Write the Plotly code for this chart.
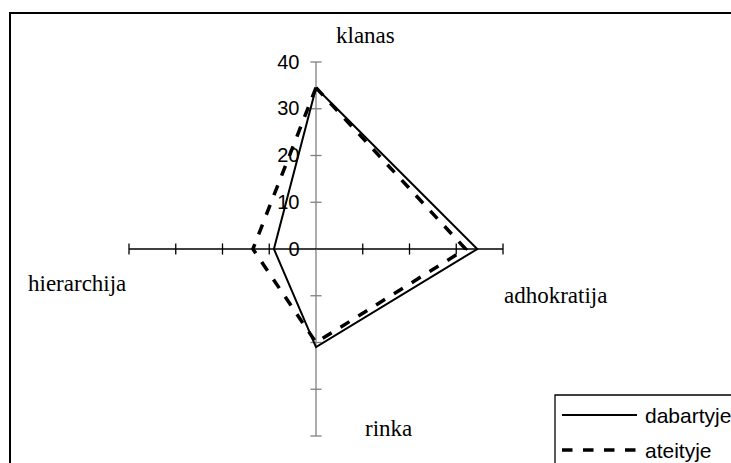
import plotly.graph_objects as go

categories = ["klanas", "adhokratija", "rinka", "hierarchija"]
dabartyje = [34.5, 34.5, 21, 9]
ateityje = [34.5, 32, 20, 13.5]
series_names = ["dabartyje", "ateityje"]
tick_values = [0, 10, 20, 30, 40]
tick_labels = ["0", "10", "20", "30", "40"]

W, H = 731, 463

def px(x):
    return x / W

def py(y):
    return 1 - y / H

fig = go.Figure()

# spokes
spoke_colors = ["#808080", "#000000", "#808080", "#000000"]
for cat, col in zip(categories, spoke_colors):
    fig.add_trace(go.Scatterpolar(
        r=[tick_values[0], tick_values[-1]], theta=[cat, cat], mode="lines",
        line=dict(color=col, width=1.3), showlegend=False, hoverinfo="skip"))

# tick marks on spokes
tick_symbols = ["line-ew", "line-ns", "line-ew", "line-ns"]
for cat, sym, col in zip(categories, tick_symbols, spoke_colors):
    fig.add_trace(go.Scatterpolar(
        r=tick_values[1:], theta=[cat] * (len(tick_values) - 1), mode="markers",
        marker=dict(symbol=sym, size=8, line=dict(color=col, width=1.3)),
        showlegend=False, hoverinfo="skip"))

# data series
fig.add_trace(go.Scatterpolar(
    r=dabartyje + dabartyje[:1], theta=categories + categories[:1], mode="lines",
    name=series_names[0], line=dict(color="black", width=2), showlegend=False))
fig.add_trace(go.Scatterpolar(
    r=ateityje + ateityje[:1], theta=categories + categories[:1], mode="lines",
    name=series_names[1], line=dict(color="black", width=3.5, dash="dash"), showlegend=False))

fig.update_layout(
    width=W, height=H,
    margin=dict(l=0, r=0, t=0, b=0),
    paper_bgcolor="white",
    polar=dict(
        domain=dict(x=[px(129), px(503)], y=[py(436), py(62)]),
        bgcolor="rgba(0,0,0,0)",
        radialaxis=dict(
            range=[0, 40], angle=90, tickangle=90, side="counterclockwise",
            tickvals=tick_values, ticktext=tick_labels,
            showgrid=False, showline=False,
            ticks="outside", ticklen=9, tickcolor="rgba(0,0,0,0)",
            tickfont=dict(family="Liberation Sans, Arial", size=20, color="black"),
        ),
        angularaxis=dict(
            categoryorder="array", categoryarray=categories,
            rotation=90, direction="clockwise",
            showgrid=False, showline=False, showticklabels=False, ticks="",
        ),
    ),
)

# category labels (Excel-style placement)
label_pos = {"klanas": (365, 35), "adhokratija": (555, 295),
             "rinka": (388, 428), "hierarchija": (77, 283)}
for cat in categories:
    x, y = label_pos[cat]
    fig.add_annotation(x=px(x), y=py(y), xref="paper", yref="paper", text=cat,
                       showarrow=False, xanchor="center", yanchor="middle",
                       font=dict(family="Liberation Serif, Times New Roman", size=23, color="black"))

# outer border
fig.add_shape(type="rect", xref="paper", yref="paper",
              x0=px(10), x1=1.2, y0=-0.2, y1=py(13),
              line=dict(color="black", width=2), fillcolor="rgba(0,0,0,0)")

# legend box
fig.add_shape(type="rect", xref="paper", yref="paper",
              x0=px(555), x1=1.2, y0=-0.2, y1=py(395),
              line=dict(color="black", width=1.3), fillcolor="white")
leg_rows = [415, 450]
leg_styles = [dict(color="black", width=2), dict(color="black", width=3.5, dash="dash")]
for name, ry, st in zip(series_names, leg_rows, leg_styles):
    fig.add_shape(type="line", xref="paper", yref="paper",
                  x0=px(562), x1=px(637), y0=py(ry), y1=py(ry), line=st)
    fig.add_annotation(x=px(643), y=py(ry), xref="paper", yref="paper", text=name,
                       showarrow=False, xanchor="left", yanchor="middle",
                       font=dict(family="Liberation Sans, Arial", size=21, color="black"))

fig.write_html("out.html", config={"displayModeBar": False},
               post_script="document.body.style.margin='0';")
